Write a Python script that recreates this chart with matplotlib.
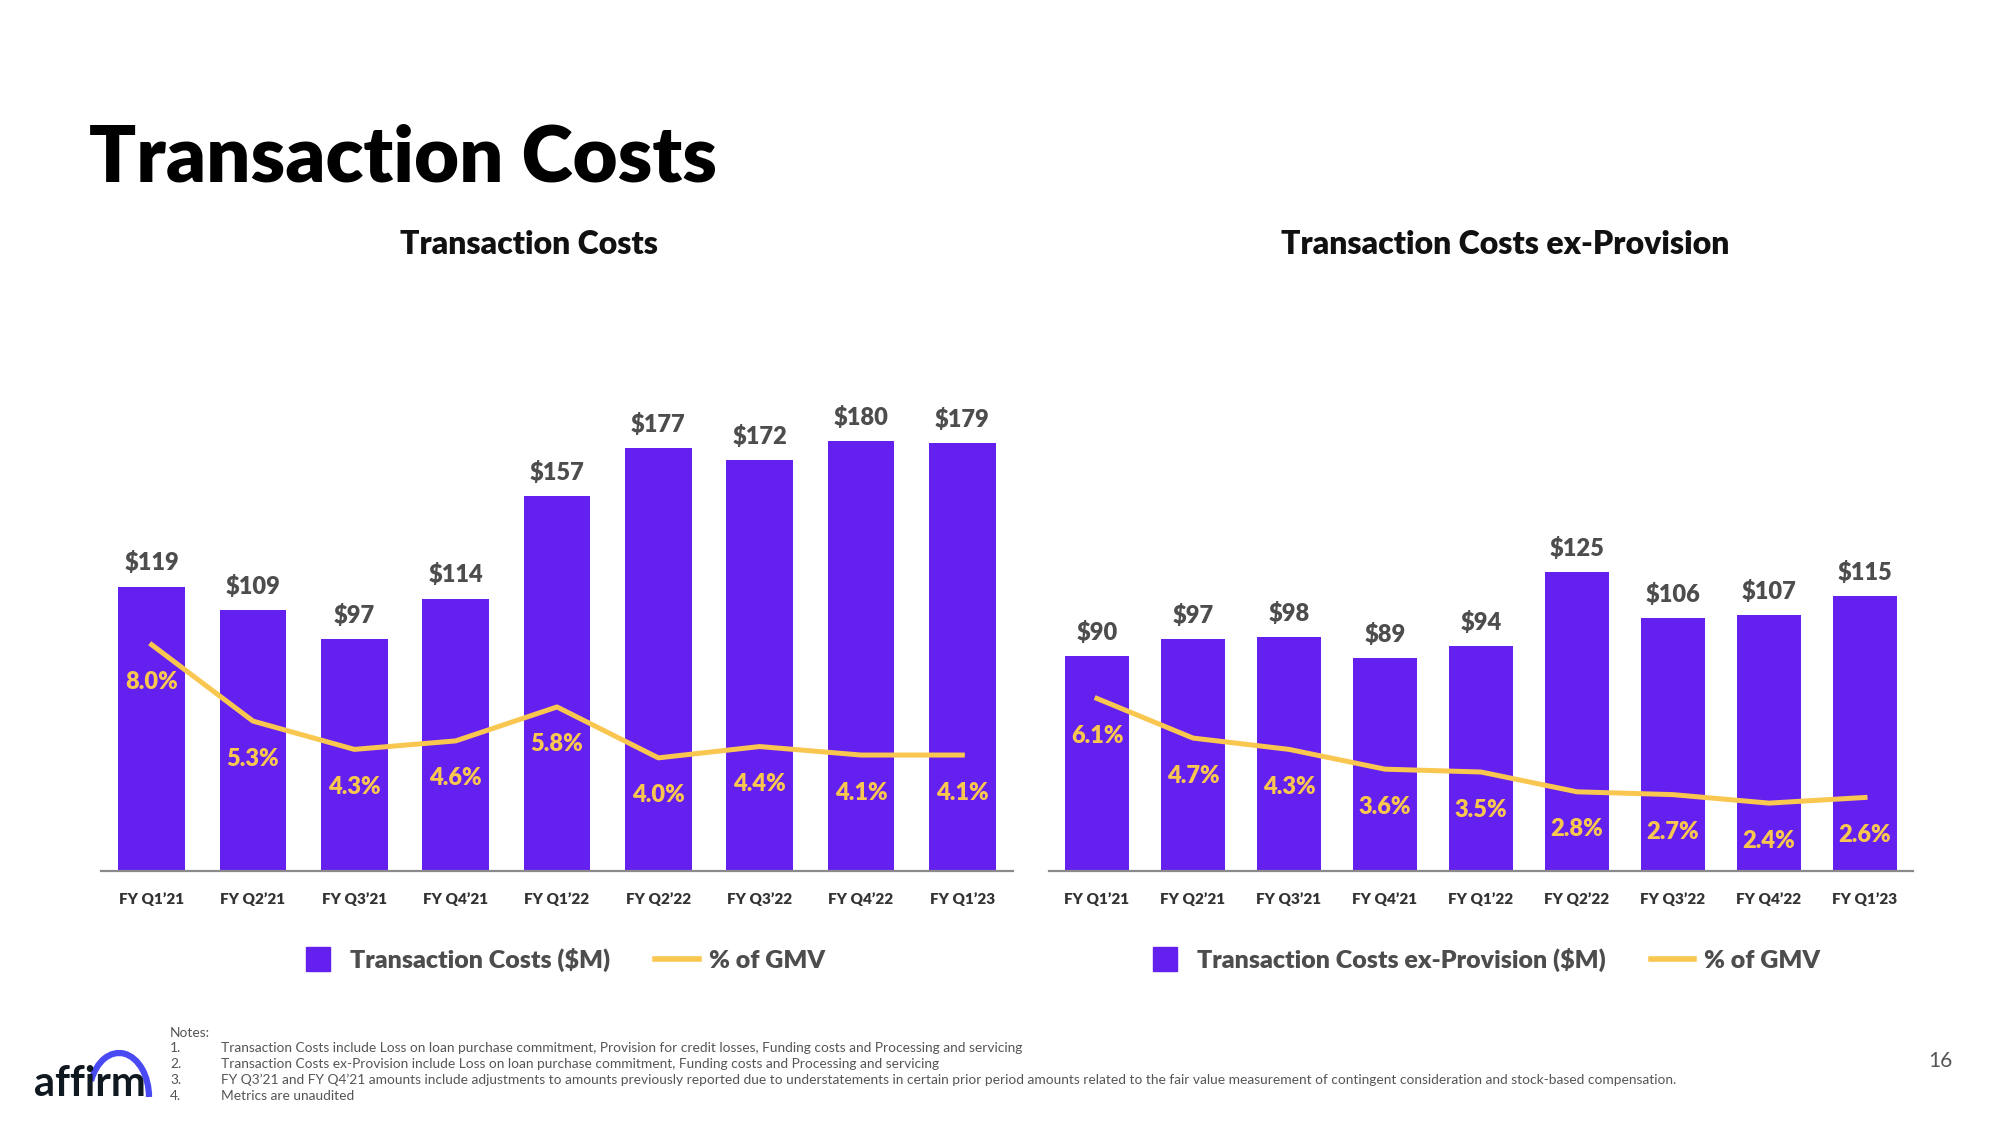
import matplotlib.pyplot as plt
from matplotlib.patches import Arc
from matplotlib.lines import Line2D

plt.rcParams['font.family'] = ['Lato', 'DejaVu Sans']

# data
quarters = ["FY Q1’21", "FY Q2’21", "FY Q3’21", "FY Q4’21", "FY Q1’22",
            "FY Q2’22", "FY Q3’22", "FY Q4’22", "FY Q1’23"]
tc_values = [119, 109, 97, 114, 157, 177, 172, 180, 179]
tc_gmv_pct = [8.0, 5.3, 4.3, 4.6, 5.8, 4.0, 4.4, 4.1, 4.1]
exprov_values = [90, 97, 98, 89, 94, 125, 106, 107, 115]
exprov_gmv_pct = [6.1, 4.7, 4.3, 3.6, 3.5, 2.8, 2.7, 2.4, 2.6]

notes = [
    "Transaction Costs include Loss on loan purchase commitment, Provision for credit losses, "
    "Funding costs and Processing and servicing",
    "Transaction Costs ex-Provision include Loss on loan purchase commitment, Funding costs "
    "and Processing and servicing",
    "FY Q3’21 and FY Q4’21 amounts include adjustments to amounts previously reported due to "
    "understatements in certain prior period amounts related to the fair value measurement of "
    "contingent consideration and stock-based compensation.",
    "Metrics are unaudited",
]

PURPLE = '#6320EE'
YELLOW = '#F9C74F'
GRAY = '#4D4D4D'

W, H = 2000, 1125
fig = plt.figure(figsize=(20, 11.25), dpi=100)


def px_axes(left, top, width, height):
    return fig.add_axes([left / W, 1 - (top + height) / H, width / W, height / H])


def draw_chart(left, width, center, title, values, pct, bar_label, legend_x):
    ax = px_axes(left, 393, width, 478)
    x = list(range(len(values)))
    bars = ax.bar(x, values, width=0.66, color=PURPLE, zorder=2)
    ax.set_xlim(-0.5, len(values) - 0.5)
    ax.set_ylim(0, 200)
    for b, v in zip(bars, values):
        ax.annotate(f'${v}', (b.get_x() + b.get_width() / 2, v), xytext=(0, 17),
                    textcoords='offset points', ha='center', va='center',
                    fontsize=17, fontweight='heavy', color=GRAY)
    ax.set_xticks(x)
    ax.set_xticklabels(quarters, fontsize=11, fontweight='heavy', color='#333333')
    ax.tick_params(axis='x', length=0, pad=15)
    ax.set_yticks([])
    for s in ['top', 'right', 'left']:
        ax.spines[s].set_visible(False)
    ax.spines['bottom'].set_color('#8a8a8a')
    ax.spines['bottom'].set_linewidth(1.6)

    ax2 = ax.twinx()
    ax2.plot(x, pct, color=YELLOW, lw=3.6, zorder=3)
    ax2.set_ylim(0, 16.9)
    ax2.axis('off')
    for i, p in zip(x, pct):
        ax2.annotate(f'{p:.1f}%', (i, p), xytext=(0, -27), textcoords='offset points',
                     ha='center', va='center', fontsize=17, fontweight='heavy', color=YELLOW)

    fig.text(center / W, 1 - 244 / H, title, ha='center', va='center',
             fontsize=23, fontweight='heavy', color='#111111')

    handles = [Line2D([], [], marker='s', ls='none', color=PURPLE, markersize=17),
               Line2D([], [], color=YELLOW, lw=4)]
    ax.legend(handles, [bar_label, '% of GMV'], loc='center left',
              bbox_to_anchor=(legend_x / W, 1 - 960 / H), bbox_transform=fig.transFigure,
              frameon=False, ncol=2, prop={'size': 18, 'weight': 'heavy'}, labelcolor=GRAY,
              handlelength=1.75, handletextpad=0.4, columnspacing=1.8,
              borderpad=0, borderaxespad=0)


draw_chart(101, 912, 529, 'Transaction Costs', tc_values, tc_gmv_pct,
           'Transaction Costs ($M)', 296)
draw_chart(1049, 864, 1505, 'Transaction Costs ex-Provision', exprov_values, exprov_gmv_pct,
           'Transaction Costs ex-Provision ($M)', 1143)

# slide title
fig.text(89 / W, 1 - 159 / H, 'Transaction Costs', ha='left', va='center',
         fontsize=56, fontweight='heavy', color='black')

# notes
fig.text(170 / W, 1 - 1033 / H, 'Notes:', ha='left', va='center', fontsize=9.9, color='#555555')
for k, line in enumerate(notes):
    y = 1 - (1048 + 16 * k) / H
    fig.text(170 / W, y, f'{k + 1}.', ha='left', va='center', fontsize=9.9, color='#555555')
    fig.text(221 / W, y, line, ha='left', va='center', fontsize=9.9, color='#555555')

fig.text(1940 / W, 1 - 1061 / H, '16', ha='center', va='center', fontsize=15, color='#555555')

# logo
lax = px_axes(20, 1030, 150, 80)
lax.set_xlim(20, 170)
lax.set_ylim(1110, 1030)
lax.axis('off')
lax.text(34, 1096, 'affirm', ha='left', va='baseline', fontsize=30, fontweight='bold', color='#101820')
lax.add_patch(Arc((119, 1097), 60, 88, theta1=210, theta2=360, color='#4A4AF4', lw=4.5))

fig.savefig('out.png', dpi=100)
